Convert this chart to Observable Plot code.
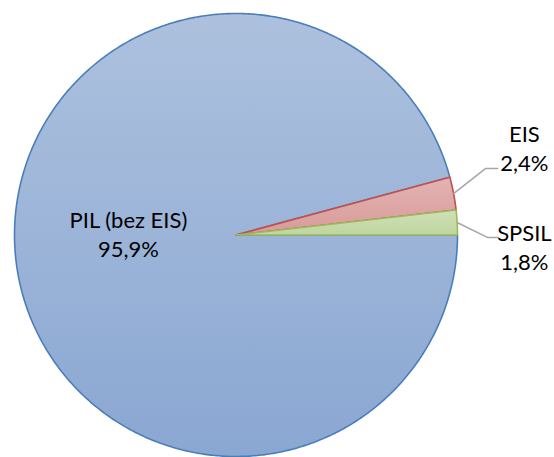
<!DOCTYPE html>
<html>
<head>
<meta charset="utf-8">
<script src="https://cdn.jsdelivr.net/npm/d3@7"></script>
<script src="https://cdn.jsdelivr.net/npm/@observablehq/plot@0.6"></script>
<style>
  html, body { margin: 0; padding: 0; background: #fff; }
</style>
</head>
<body>
<div id="chart"></div>
<script>
// ---- data ----
const categories = ["PIL (bez EIS)", "EIS", "SPSIL"];
const values = [95.9, 2.4, 1.8];
const valueLabels = ["95,9%", "2,4%", "1,8%"];

// ---- styles ----
const fills = ["url(#gPIL)", "url(#gEIS)", "url(#gSPSIL)"];
const strokes = ["#4a7ebb", "#c0504d", "#9bbb59"];
const gradientStops = [
  ["#adc1de", "#8aa7d2"],
  ["#e3b3b2", "#d79b9a"],
  ["#d0e0b6", "#bfd59f"]
];

// ---- layout (radius units; circle radius = 1) ----
const W = 554, H = 457, R = 221.5, CX = 235.5, CY = 234.5;
// label anchors and leader elbows for each slice
const labelLayout = [
  {inside: true,  r: 0.49, lx: null, ly: null},
  {inside: false, lx: 1.302, ly: 0.395, ex: 1.126, ey: 0.300, endx: 1.181},
  {inside: false, lx: 1.302, ly: -0.050, ex: 1.135, ey: -0.011, endx: 1.186}
];

const pie = d3.pie().sort(null).startAngle(Math.PI / 2).endAngle(Math.PI / 2 + 2 * Math.PI);
const arcs = pie(values);

function slicePoints(a) {
  const pts = [{x: 0, y: 0}];
  const steps = Math.max(4, Math.ceil((a.endAngle - a.startAngle) / (Math.PI / 360)));
  for (let i = 0; i <= steps; i++) {
    const t = a.startAngle + (a.endAngle - a.startAngle) * i / steps;
    pts.push({x: Math.sin(t), y: Math.cos(t)});
  }
  return pts;
}

const sliceMarks = arcs.map((a, i) =>
  Plot.line(slicePoints(a), {
    x: "x", y: "y",
    curve: "linear-closed",
    fill: fills[i],
    stroke: strokes[i],
    strokeWidth: 1.6,
    strokeLinejoin: "round"
  })
);

// labels
const labelData = arcs.map((a, i) => {
  const mid = (a.startAngle + a.endAngle) / 2;
  const L = labelLayout[i];
  if (L.inside) {
    return {x: Math.sin(mid) * L.r, y: 0.0068, text: categories[i] + "\n" + valueLabels[i]};
  }
  return {x: L.lx, y: L.ly, text: categories[i] + "\n" + valueLabels[i]};
});

// leader lines
const leaderData = [];
arcs.forEach((a, i) => {
  const L = labelLayout[i];
  if (L.inside) return;
  const mid = (a.startAngle + a.endAngle) / 2;
  leaderData.push({k: i, x: Math.sin(mid), y: Math.cos(mid)});
  leaderData.push({k: i, x: L.ex, y: L.ey});
  leaderData.push({k: i, x: L.endx, y: L.ey});
});

const chart = Plot.plot({
  width: W,
  height: H,
  margin: 0,
  x: {domain: [(0 - CX) / R, (W - CX) / R], axis: null},
  y: {domain: [(CY - H) / R, CY / R], axis: null},
  style: {fontFamily: "Lato, 'Open Sans', sans-serif", background: "#fff", color: "#000"},
  marks: [
    ...sliceMarks,
    Plot.line(leaderData, {x: "x", y: "y", z: "k", stroke: "#a6a6a6", strokeWidth: 1.5}),
    Plot.text(labelData, {
      x: "x", y: "y", text: "text",
      fontSize: 22, lineHeight: 1.33, lineAnchor: "middle", textAnchor: "middle",
      fill: "#000"
    })
  ]
});

// gradients
const defs = d3.select(chart).insert("defs", ":first-child");
const ids = ["gPIL", "gEIS", "gSPSIL"];
ids.forEach((id, i) => {
  const g = defs.append("linearGradient").attr("id", id)
    .attr("x1", 0).attr("y1", 0).attr("x2", 0).attr("y2", 1);
  g.append("stop").attr("offset", "0%").attr("stop-color", gradientStops[i][0]);
  g.append("stop").attr("offset", "100%").attr("stop-color", gradientStops[i][1]);
});

document.getElementById("chart").appendChild(chart);
</script>
</body>
</html>
